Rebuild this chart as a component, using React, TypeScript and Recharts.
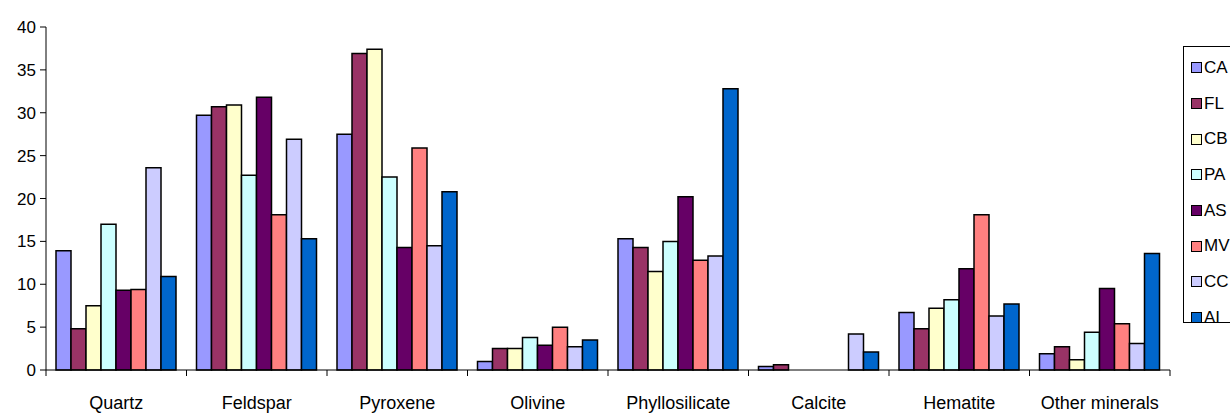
import { BarChart, Bar, XAxis, YAxis } from "recharts";

const categories = ["Quartz", "Feldspar", "Pyroxene", "Olivine", "Phyllosilicate", "Calcite", "Hematite", "Other minerals"];

const CA = [13.9, 29.7, 27.5, 1.0, 15.3, 0.4, 6.7, 1.9];
const FL = [4.8, 30.7, 36.9, 2.5, 14.3, 0.6, 4.8, 2.7];
const CB = [7.5, 30.9, 37.4, 2.5, 11.5, 0, 7.2, 1.2];
const PA = [17.0, 22.7, 22.5, 3.8, 15.0, 0, 8.2, 4.4];
const AS = [9.3, 31.8, 14.3, 2.9, 20.2, 0, 11.8, 9.5];
const MV = [9.4, 18.1, 25.9, 5.0, 12.8, 0, 18.1, 5.4];
const CC = [23.6, 26.9, 14.5, 2.7, 13.3, 4.2, 6.3, 3.1];
const AI = [10.9, 15.3, 20.8, 3.5, 32.8, 2.1, 7.7, 13.6];

const yTicks = [0, 5, 10, 15, 20, 25, 30, 35, 40];

const series = [
  { key: "CA", values: CA, color: "#9999FF" },
  { key: "FL", values: FL, color: "#993366" },
  { key: "CB", values: CB, color: "#FFFFCC" },
  { key: "PA", values: PA, color: "#CCFFFF" },
  { key: "AS", values: AS, color: "#660066" },
  { key: "MV", values: MV, color: "#FF8080" },
  { key: "CC", values: CC, color: "#CCCCFF" },
  { key: "AI", values: AI, color: "#0066CC" },
];

const data = categories.map((name, i) => {
  const row: Record<string, string | number> = { name };
  series.forEach((s) => {
    row[s.key] = s.values[i];
  });
  return row;
});

const W = 1230;
const H = 414;
const PLOT_LEFT = 46;
const PLOT_RIGHT = 1170;
const BAND = (PLOT_RIGHT - PLOT_LEFT) / categories.length;
const FONT = "'Liberation Sans', Arial, sans-serif";

const CategoryTick = (props: any) => {
  const { x, y, payload, index } = props;
  const left = x - BAND / 2;
  return (
    <g>
      <line x1={left} x2={left} y1={y} y2={y + 6} stroke="#000" />
      {index === categories.length - 1 && (
        <line x1={left + BAND} x2={left + BAND} y1={y} y2={y + 6} stroke="#000" />
      )}
      <text x={x} y={y + 39} textAnchor="middle" fontSize={18} fill="#000" fontFamily={FONT}>
        {payload.value}
      </text>
    </g>
  );
};

// legend box sits at the right edge, partly cut off like the original
const LegendBox = () => (
  <div
    style={{
      position: "absolute",
      left: 1183,
      top: 46,
      border: "1px solid #000",
      width: 80,
      height: 277,
      paddingTop: 3,
      boxSizing: "border-box",
      fontFamily: FONT,
      fontSize: 17,
    }}
  >
    {series.map((s) => (
      <div key={s.key} style={{ display: "flex", alignItems: "center", height: 35.7 }}>
        <span
          style={{
            width: 9,
            height: 9,
            marginLeft: 7,
            marginRight: 2,
            background: s.color,
            border: "1px solid #000",
          }}
        />
        <span>{s.key}</span>
      </div>
    ))}
  </div>
);

export default function App() {
  return (
    <div style={{ position: "absolute", left: 0, top: 0, width: W, height: H, overflow: "hidden", background: "#fff" }}>
      <BarChart
        width={W}
        height={H}
        data={data}
        margin={{ top: 27, right: W - PLOT_RIGHT, bottom: 0, left: 0 }}
        barGap={0}
        barCategoryGap={10}
      >
        <XAxis
          dataKey="name"
          height={H - 370}
          axisLine={{ stroke: "#000" }}
          tickLine={false}
          tickSize={0}
          tickMargin={0}
          interval={0}
          tick={<CategoryTick />}
        />
        <YAxis
          width={PLOT_LEFT}
          domain={[0, 40]}
          ticks={yTicks}
          interval={0}
          axisLine={{ stroke: "#000" }}
          tickLine={{ stroke: "#000" }}
          tickSize={6}
          tickMargin={4}
          tick={{ fill: "#000", fontSize: 17, fontFamily: FONT }}
        />
        {series.map((s) => (
          <Bar
            key={s.key}
            dataKey={s.key}
            fill={s.color}
            stroke="#000"
            strokeWidth={1.5}
            isAnimationActive={false}
          />
        ))}
      </BarChart>
      <LegendBox />
    </div>
  );
}
